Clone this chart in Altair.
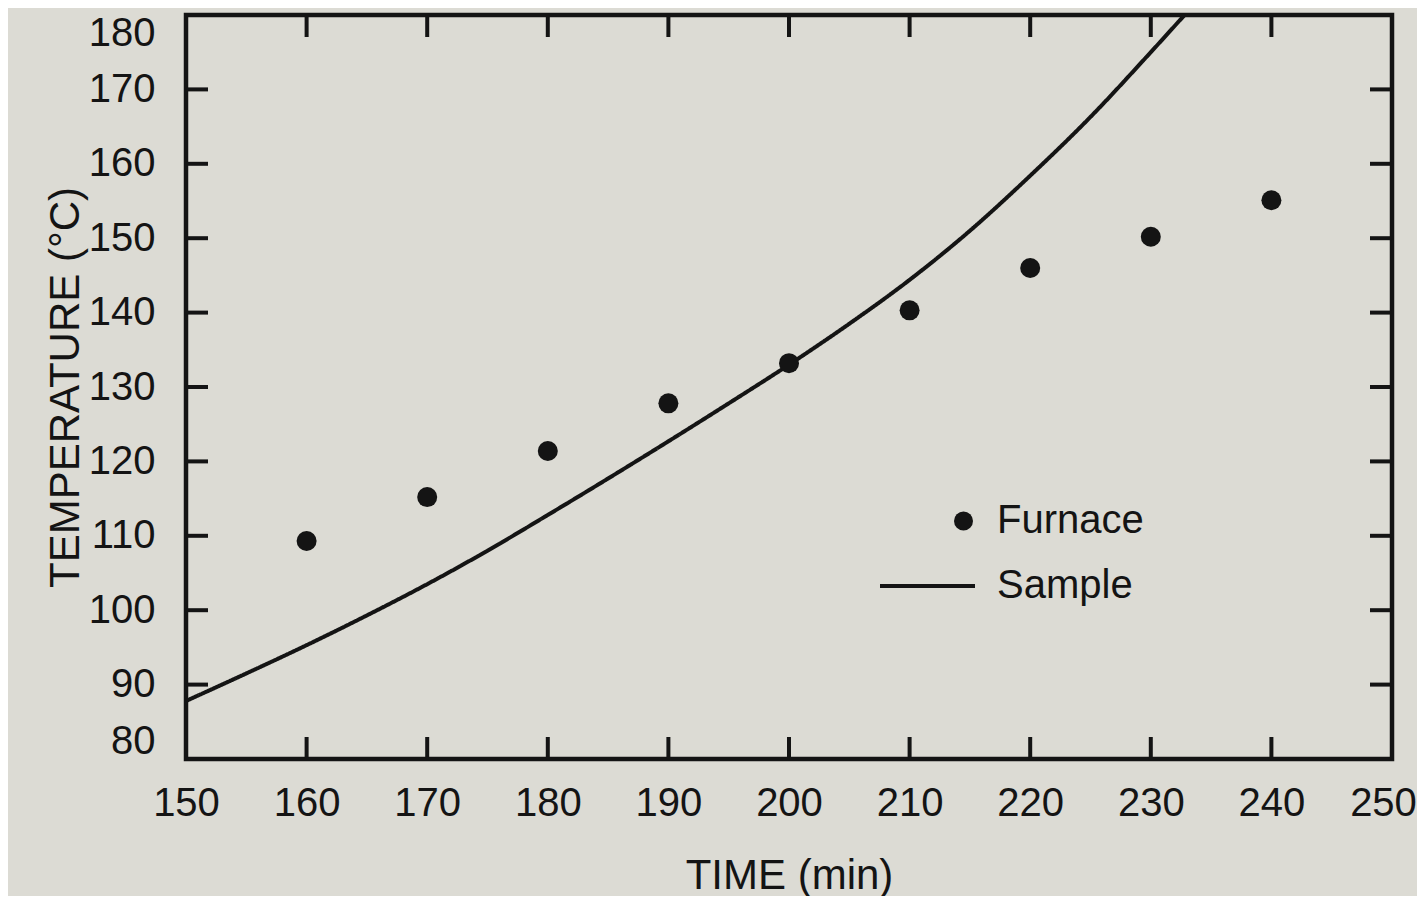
import altair as alt
import pandas as pd

# ---- data ----
furnace_time = [160, 170, 180, 190, 200, 210, 220, 230, 240]
furnace_temp = [109.3, 115.2, 121.4, 127.8, 133.2, 140.3, 146.0, 150.2, 155.1]

sample_time = [150, 155, 160, 165, 170, 175, 180, 185, 190, 195, 200,
               205, 210, 215, 220, 225, 230, 232.8]
sample_temp = [87.8, 91.5, 95.3, 99.3, 103.5, 108.0, 112.8, 117.7, 122.7,
               127.8, 133.0, 138.5, 144.4, 151.0, 158.4, 166.3, 175.0, 180.0]

x_label_values = [150, 160, 170, 180, 190, 200, 210, 220, 230, 240, 250]
y_label_values = [80, 90, 100, 110, 120, 130, 140, 150, 160, 170, 180]
x_tick_values = [160, 170, 180, 190, 200, 210, 220, 230, 240]
y_tick_values = [90, 100, 110, 120, 130, 140, 150, 160, 170]

x_title = "TIME (min)"
y_title = "TEMPERATURE (°C)"

INK = "#141414"
BG = "#dcdbd4"
FONT = "Liberation Sans"
W, H = 1206, 744
TICK = 22

furnace_df = pd.DataFrame({"time": furnace_time, "temp": furnace_temp,
                           "furnace": ["Furnace"] * len(furnace_time)})
sample_df = pd.DataFrame({"time": sample_time, "temp": sample_temp,
                          "sample": ["Sample"] * len(sample_time)})
xt_df = pd.DataFrame({"time": x_tick_values})
yt_df = pd.DataFrame({"temp": y_tick_values})

xscale = alt.Scale(domain=[150, 250], nice=False, zero=False)
yscale = alt.Scale(domain=[80, 180], nice=False, zero=False)

x_axis = alt.Axis(values=x_label_values, title=x_title, grid=False, ticks=False,
                  tickSize=0, domain=False, labelPadding=24, titlePadding=32,
                  labelFlush=False, labelOverlap=False,
                  labelOffset={"condition": {"test": "datum.value == 250", "value": -9},
                               "value": 0})
y_axis = alt.Axis(values=y_label_values, title=y_title, grid=False, ticks=False,
                  tickSize=0, domain=False, labelPadding=31, titlePadding=1,
                  labelFlush=True, labelFlushOffset=2, labelOverlap=False)

X = alt.X("time:Q", scale=xscale, axis=x_axis)
Y = alt.Y("temp:Q", scale=yscale, axis=y_axis)

points = alt.Chart(furnace_df).mark_point(
    filled=True, size=400, color=INK, opacity=1
).encode(
    x=X, y=Y,
    shape=alt.Shape("furnace:N",
                    scale=alt.Scale(domain=["Furnace"], range=["circle"]),
                    legend=alt.Legend(orient="none", legendX=757.5, legendY=486,
                                      title=None, padding=0, symbolSize=361,
                                      symbolFillColor=INK, symbolStrokeWidth=0,
                                      symbolOpacity=1, labelOffset=13.5,
                                      labelFont=FONT, labelFontSize=40,
                                      labelColor=INK)),
)

line = alt.Chart(sample_df).mark_line(
    color=INK, strokeWidth=4, interpolate="monotone"
).encode(
    x=X, y=Y,
    strokeDash=alt.StrokeDash("sample:N",
                              scale=alt.Scale(domain=["Sample"], range=[[1, 0]]),
                              legend=alt.Legend(orient="none", legendX=692, legendY=521.5,
                                                title=None, padding=0,
                                                symbolType="stroke", symbolSize=9025,
                                                symbolStrokeColor=INK,
                                                symbolStrokeWidth=4, symbolOpacity=1,
                                                labelOffset=20, labelFont=FONT,
                                                labelFontSize=40, labelColor=INK)),
)

tick_top = alt.Chart(xt_df).mark_rule(color=INK, strokeWidth=4).encode(
    x=X, y=alt.value(0), y2=alt.value(TICK))
tick_bottom = alt.Chart(xt_df).mark_rule(color=INK, strokeWidth=4).encode(
    x=X, y=alt.value(H), y2=alt.value(H - TICK))
tick_left = alt.Chart(yt_df).mark_rule(color=INK, strokeWidth=4).encode(
    y=Y, x=alt.value(0), x2=alt.value(TICK))
tick_right = alt.Chart(yt_df).mark_rule(color=INK, strokeWidth=4).encode(
    y=Y, x=alt.value(W), x2=alt.value(W - TICK))

chart = alt.layer(
    tick_top, tick_bottom, tick_left, tick_right, line, points
).resolve_legend(
    shape="independent", strokeDash="independent"
).properties(
    width=W, height=H,
    autosize=alt.AutoSizeParams(type="none"),
    padding={"left": 178, "top": 7, "right": 25, "bottom": 137},
    background=BG,
).configure_view(
    stroke=INK, strokeWidth=4.5, fill=BG
).configure_axis(
    labelFont=FONT, labelFontSize=40, labelColor=INK,
    titleFont=FONT, titleFontSize=42, titleColor=INK, titleFontWeight="normal",
)

chart.save("out.html", embed_options={"renderer": "svg", "actions": False})
